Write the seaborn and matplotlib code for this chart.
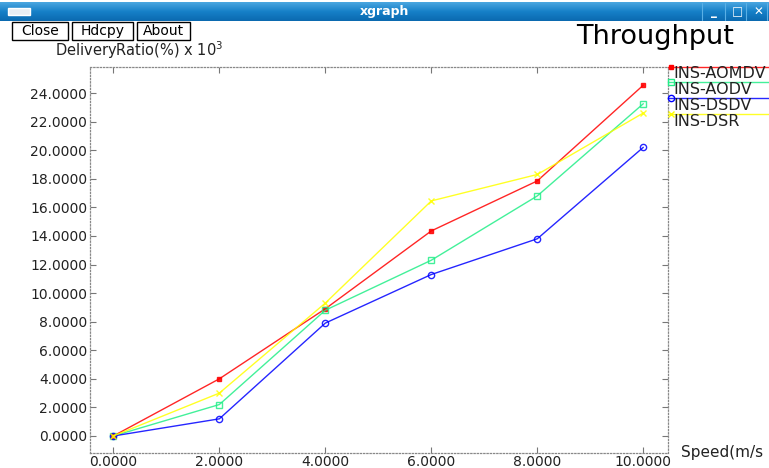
import numpy as np
import pandas as pd
import matplotlib
matplotlib.use("Agg")
import matplotlib.pyplot as plt
from matplotlib.lines import Line2D
from matplotlib.patches import Rectangle
from matplotlib.colors import LinearSegmentedColormap
import seaborn as sns

# Throughput (delivery ratio, x10^3) versus node speed
speed = [0, 2, 4, 6, 8, 10]
ins_aomdv = [0.0, 4.0, 8.9, 14.35, 17.85, 24.55]
ins_aodv = [0.0, 2.2, 8.8, 12.3, 16.8, 23.25]
ins_dsdv = [0.0, 1.2, 7.9, 11.3, 13.8, 20.2]
ins_dsr = [0.0, 3.0, 9.3, 16.45, 18.3, 22.6]

protocols = ["INS-AOMDV", "INS-AODV", "INS-DSDV", "INS-DSR"]
series = [ins_aomdv, ins_aodv, ins_dsdv, ins_dsr]
y_ticks = [0, 2, 4, 6, 8, 10, 12, 14, 16, 18, 20, 22, 24]
x_ticks = [0, 2, 4, 6, 8, 10]

colors = {"INS-AOMDV": "#ff0000", "INS-AODV": "#22ee88",
          "INS-DSDV": "#0000ff", "INS-DSR": "#ffff00"}
markers = {"INS-AOMDV": "s", "INS-AODV": "s", "INS-DSDV": "o", "INS-DSR": "x"}
msizes = {"INS-AOMDV": 2.5, "INS-AODV": 4.5, "INS-DSDV": 4.5, "INS-DSR": 5}
filled = {"INS-AOMDV": True, "INS-AODV": False, "INS-DSDV": False, "INS-DSR": False}

df = pd.DataFrame({
    "speed": np.tile(speed, len(protocols)),
    "ratio": np.concatenate(series),
    "protocol": np.repeat(protocols, len(speed)),
})

sns.set_style("white")
plt.rcParams["font.family"] = ["DejaVu Sans"]

W, H = 769, 468
fig = plt.figure(figsize=(W / 100, H / 100), dpi=100)
fig.patch.set_facecolor("white")


def fx(x):
    return x / W


def fy(y):
    return 1 - y / H


# window title bar with gradient
bar = fig.add_axes([0, fy(21), 1, 19 / H])
grad = np.linspace(0, 1, 32).reshape(-1, 1)
cmap = LinearSegmentedColormap.from_list("bar", ["#4aa6e0", "#1680c8", "#0b6ab0"])
bar.imshow(grad, aspect="auto", cmap=cmap, extent=[0, 1, 0, 1])
bar.set_axis_off()
bar.add_patch(Rectangle((8 / W, 0.3), 22 / W, 0.4, facecolor="#e8eef4",
                        edgecolor="white", transform=bar.transAxes))
fig.text(0.5, fy(12), "xgraph", color="white", fontsize=9, fontweight="bold",
         ha="center", va="center")
for x0, sym in [(706, "_"), (729, "\u25a1"), (750, "\u2715")]:
    fig.text(fx(x0 + 8), fy(12), sym, color="white", fontsize=8.5,
             fontweight="bold", ha="center", va="center")
for xs in [702, 725, 746, 767]:
    fig.add_artist(Line2D([fx(xs), fx(xs)], [fy(3), fy(20)], color="#5ab0e6", lw=0.8))

# command buttons
for x0, x1, label in [(12, 68, "Close"), (72, 133, "Hdcpy"), (137, 190, "About")]:
    fig.add_artist(Rectangle((fx(x0), fy(40)), fx(x1 - x0), (40 - 22) / H,
                             facecolor="white", edgecolor="black", lw=1.0))
    fig.text(fx((x0 + x1) / 2), fy(31), label, fontsize=10, color="black",
             ha="center", va="center")

fig.text(fx(576), fy(37), "Throughput", fontsize=19.5, color="black",
         ha="left", va="center")
fig.text(fx(55), fy(50), "DeliveryRatio(%) x 10$^3$", fontsize=10.5, color="#222222",
         ha="left", va="center")
fig.text(fx(681), fy(453), "Speed(m/s", fontsize=11, color="#222222",
         ha="left", va="center")

# plotting area
ax = fig.add_axes([fx(90), fy(453), fx(668 - 90), (453 - 67) / H])
for p, vals in zip(protocols, series):
    sns.lineplot(x=speed, y=vals, ax=ax, color=colors[p], lw=1.0,
                 marker=markers[p], markersize=msizes[p],
                 markerfacecolor=colors[p] if filled[p] else "none",
                 markeredgecolor=colors[p], markeredgewidth=1.0,
                 alpha=0.85, clip_on=False)

ax.set_xlim(-0.44, 10.466)
ax.set_ylim(-1.19, 25.82)
ax.set_xticks(x_ticks)
ax.set_yticks(y_ticks)
ax.set_xticklabels([f"{v:.4f}" for v in x_ticks])
ax.set_yticklabels([f"{v:.4f}" for v in y_ticks])
ax.set_xlabel("")
ax.set_ylabel("")
ax.tick_params(axis="both", direction="in", length=4, width=0.8, color="#777777",
               top=True, right=True, bottom=True, left=True,
               labelsize=10, labelcolor="#222222", pad=2)
ax.tick_params(axis="x", pad=1.5)
for s in ax.spines.values():
    s.set_linestyle((0, (1, 1.6)))
    s.set_color("#888888")
    s.set_linewidth(0.9)
ax.set_facecolor("white")
ax.grid(False)

# key beside the plot
for i, p in enumerate(protocols):
    yl = [67, 82, 98, 114][i]
    fig.add_artist(Line2D([fx(668), fx(769)], [fy(yl), fy(yl)],
                          color=colors[p], lw=1.0, alpha=0.85))
    fig.add_artist(Line2D([fx(671)], [fy(yl)], color=colors[p], lw=0,
                          marker=markers[p], markersize=msizes[p],
                          markerfacecolor=colors[p] if filled[p] else "none",
                          markeredgecolor=colors[p]))
    fig.text(fx(673), fy(yl + 7), p, fontsize=11.5, color="#222222",
             ha="left", va="center")

fig.savefig("out.png", dpi=100, facecolor="white")
